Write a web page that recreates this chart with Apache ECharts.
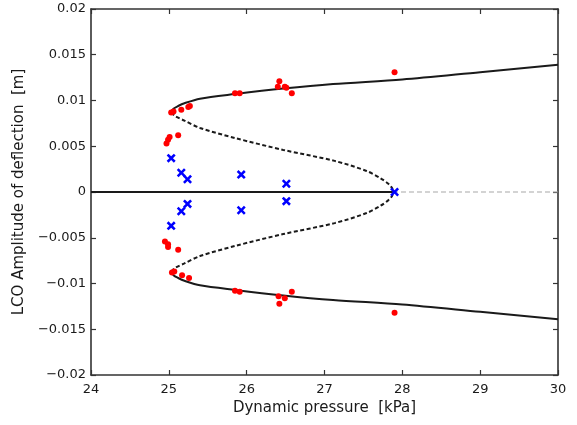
<!DOCTYPE html>
<html>
<head>
<meta charset="utf-8">
<script src="https://cdn.jsdelivr.net/npm/echarts@6/dist/echarts.min.js"></script>
<style>
  html, body { margin: 0; padding: 0; background: #fff; }
  #chart { width: 577px; height: 425px; }
</style>
</head>
<body>
<div id="chart"></div>
<script>
// Axis ticks
const xTicks = [24, 25, 26, 27, 28, 29, 30];
const yTicks = [-0.02, -0.015, -0.01, -0.005, 0, 0.005, 0.01, 0.015, 0.02];
const yTickLabels = ['\u22120.02', '\u22120.015', '\u22120.01', '\u22120.005', '0', '0.005', '0.01', '0.015', '0.02'];

// Stable LCO branch (solid), dynamic pressure [kPa] and amplitude [m]
const stableQ     = [25.03, 25.06, 25.12, 25.20, 25.40, 25.85, 26.47, 27.11, 28.00, 29.00, 30.00];
const stableUpper = [0.0087, 0.0091, 0.0094, 0.0097, 0.0102, 0.0107, 0.0113, 0.0118, 0.0123, 0.0131, 0.0139];
const stableLower = [-0.0087, -0.0091, -0.0094, -0.0097, -0.0102, -0.0107, -0.0113, -0.0118, -0.0123, -0.0131, -0.0139];

// Unstable LCO branch (dashed)
const unstableQ     = [25.03, 25.08, 25.20, 25.40, 25.85, 26.47, 27.13, 27.54, 27.72, 27.82, 27.87, 27.88];
const unstableUpper = [0.0087, 0.0083, 0.0078, 0.0070, 0.0059, 0.0046, 0.0034, 0.0023, 0.0015, 0.0009, 0.0004, 0.0];
const unstableLower = [-0.0087, -0.0083, -0.0078, -0.0070, -0.0059, -0.0046, -0.0034, -0.0023, -0.0015, -0.0009, -0.0004, 0.0];

// Trivial equilibrium: stable below flutter point, unstable above
const equilibriumStableQ   = [24, 27.88];
const equilibriumUnstableQ = [27.88, 30];

// Measured LCO amplitudes (red dots)
const measuredQ   = [25.03, 25.06, 25.16, 25.25, 25.27, 25.85, 25.91, 26.42, 26.40, 26.49, 26.51, 26.58, 27.90,
                     24.97, 24.99, 25.01, 25.12,
                     24.95, 24.99, 24.99, 25.12,
                     25.04, 25.07, 25.17, 25.26, 25.85, 25.91, 26.41, 26.42, 26.49, 26.58, 27.90];
const measuredAmp = [0.0087, 0.0088, 0.0090, 0.0093, 0.0094, 0.0108, 0.0108, 0.0121, 0.0115, 0.0115, 0.0114, 0.0108, 0.0131,
                     0.0053, 0.0057, 0.0060, 0.0062,
                     -0.0054, -0.0057, -0.0060, -0.0063,
                     -0.0088, -0.0087, -0.0091, -0.0094, -0.0108, -0.0109, -0.0114, -0.0122, -0.0116, -0.0109, -0.0132];

// Decaying responses (blue crosses)
const decayQ   = [25.03, 25.16, 25.24, 25.93, 26.51, 27.90, 25.03, 25.16, 25.24, 25.93, 26.51];
const decayAmp = [0.0037, 0.0021, 0.0014, 0.0019, 0.0009, 0.0, -0.0037, -0.0021, -0.0013, -0.0020, -0.0010];

const zip = (xs, ys) => xs.map((x, i) => [x, ys[i]]);

const FONT = 'DejaVu Sans';
const INK = '#1a1a1a';

function axisBase(extra) {
  return Object.assign({
    type: 'value',
    axisLine: { show: true, onZero: false, lineStyle: { color: '#333', width: 1.6 } },
    axisTick: { show: true, inside: true, length: 5, lineStyle: { color: '#333', width: 1.2 } },
    splitLine: { show: false },
  }, extra);
}

// bold "x" marker
const crossPath = 'path://M0,2L2,0L5,3L8,0L10,2L7,5L10,8L8,10L5,7L2,10L0,8L3,5Z';

const chart = echarts.init(document.getElementById('chart'), null, { renderer: 'canvas' });
chart.setOption({
  animation: false,
  backgroundColor: '#fff',
  grid: { left: 91, right: 19, top: 9, bottom: 50, containLabel: false },
  xAxis: [
    axisBase({
      position: 'bottom', min: xTicks[0], max: xTicks[xTicks.length - 1], interval: 1,
      axisLabel: { color: INK, fontFamily: FONT, fontSize: 13, margin: 8 },
      name: 'Dynamic pressure  [kPa]', nameLocation: 'middle', nameGap: 24,
      nameTextStyle: { color: INK, fontFamily: FONT, fontSize: 15 }
    }),
    axisBase({
      position: 'top', min: xTicks[0], max: xTicks[xTicks.length - 1], interval: 1,
      axisLabel: { show: false }
    })
  ],
  yAxis: [
    axisBase({
      position: 'left', min: yTicks[0], max: yTicks[yTicks.length - 1], interval: 0.005,
      axisLabel: {
        color: INK, fontFamily: FONT, fontSize: 13, margin: 5,
        formatter: v => {
          const i = yTicks.findIndex(t => Math.abs(t - v) < 1e-9);
          return i >= 0 ? yTickLabels[i] : '';
        }
      },
      name: 'LCO Amplitude of deflection  [m]', nameLocation: 'middle', nameGap: 58,
      nameTextStyle: { color: INK, fontFamily: FONT, fontSize: 15 }
    }),
    axisBase({
      position: 'right', min: yTicks[0], max: yTicks[yTicks.length - 1], interval: 0.005,
      axisLabel: { show: false }
    })
  ],
  series: [
    {
      type: 'line', data: zip(equilibriumUnstableQ, [0, 0]), showSymbol: false, symbol: 'none',
      lineStyle: { color: '#a8a8a8', width: 1.2, type: [5, 3] }, z: 1
    },
    {
      type: 'line', data: zip(equilibriumStableQ, [0, 0]), showSymbol: false, symbol: 'none',
      lineStyle: { color: INK, width: 1.8 }, z: 2
    },
    {
      type: 'line', data: zip(stableQ, stableUpper), smooth: 0.3, showSymbol: false, symbol: 'none',
      lineStyle: { color: INK, width: 2 }, z: 2
    },
    {
      type: 'line', data: zip(stableQ, stableLower), smooth: 0.3, showSymbol: false, symbol: 'none',
      lineStyle: { color: INK, width: 2 }, z: 2
    },
    {
      type: 'line', data: zip(unstableQ, unstableUpper), smooth: 0.3, showSymbol: false, symbol: 'none',
      lineStyle: { color: INK, width: 2, type: [4, 2.5] }, z: 2
    },
    {
      type: 'line', data: zip(unstableQ, unstableLower), smooth: 0.3, showSymbol: false, symbol: 'none',
      lineStyle: { color: INK, width: 2, type: [4, 2.5] }, z: 2
    },
    {
      type: 'scatter', data: zip(measuredQ, measuredAmp), symbol: 'circle', symbolSize: 6,
      itemStyle: { color: '#ff0000', opacity: 1 }, z: 3
    },
    {
      type: 'scatter', data: zip(decayQ, decayAmp), symbol: crossPath, symbolSize: 9,
      itemStyle: { color: '#0000ff', opacity: 1 }, z: 4
    }
  ]
});
</script>
</body>
</html>
